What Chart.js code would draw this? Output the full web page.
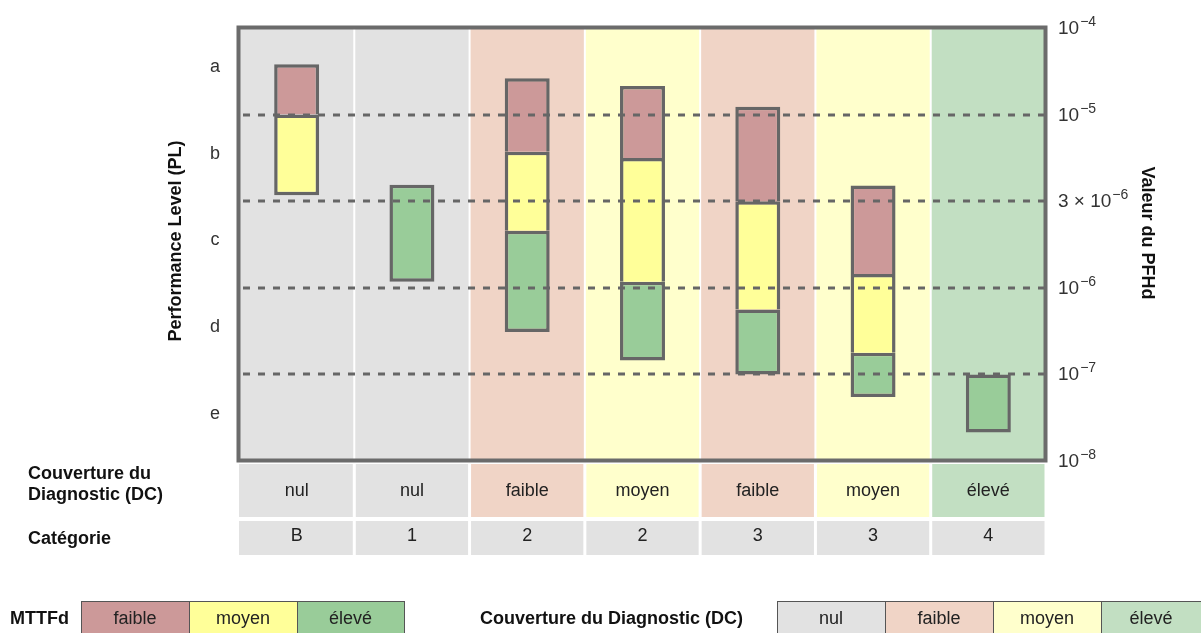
<!DOCTYPE html>
<html><head><meta charset="utf-8">
<script src="https://cdn.jsdelivr.net/npm/chart.js@4/dist/chart.umd.min.js"></script>
<style>html,body{margin:0;padding:0;background:#fff;overflow:hidden}#wrap{width:1201px;height:633px}</style>
</head><body><div id="wrap"><canvas id="c" width="1201" height="633"></canvas></div>
<script>
// ---- data (values in Performance-Level units: 0 = 10^-8 ... 5 = 10^-4) ----
const categories = ['B', '1', '2', '2', '3', '3', '4'];
const dcPerCategory = ['nul', 'nul', 'faible', 'moyen', 'faible', 'moyen', 'élevé'];
const mttfdFaible = [[4.0, 4.58], null, [3.57, 4.42], [3.50, 4.33], [3.0, 4.09], [2.16, 3.18], null];
const mttfdMoyen  = [[3.07, 4.0], null, [2.66, 3.57], [2.07, 3.50], [1.75, 3.0], [1.25, 2.16], null];
const mttfdEleve  = [null, [2.07, 3.19], [1.49, 2.66], [1.16, 2.07], [1.0, 1.75], [0.74, 1.25], [0.33, 1.0]];
const plLabels = ['e', 'd', 'c', 'b', 'a'];            // centred in bands 0-1 ... 4-5
const pfhdTickValues = [0, 1, 2, 3, 4, 5];
const pfhdTickBase = ['10', '10', '10', '3 × 10', '10', '10'];
const pfhdTickExp  = ['−8', '−7', '−6', '−6', '−5', '−4'];
const dashedLevels = [1, 2, 3, 4];
const mttfdLegend = ['faible', 'moyen', 'élevé'];
const dcLegend = ['nul', 'faible', 'moyen', 'élevé'];

// ---- styles ----
const dcColors = { 'nul': '#e2e2e2', 'faible': '#f0d4c6', 'moyen': '#ffffcc', 'élevé': '#c2dfc2' };
const mttfdColors = { 'faible': '#cc9999', 'moyen': '#ffff99', 'élevé': '#99cc99' };
const FONT = '"Liberation Sans", Arial, sans-serif';
const seriesList = [mttfdFaible, mttfdMoyen, mttfdEleve];

function borderFor(c) {
  const di = c.datasetIndex, i = c.dataIndex;
  let hasLower = false;
  for (let k = di + 1; k < seriesList.length; k++) if (seriesList[k][i]) hasLower = true;
  return { top: 3.5, left: 3.5, right: 3.5, bottom: hasLower ? 0 : 3.5 };
}

const deco = {
  id: 'deco',
  beforeDraw(chart) {
    const { ctx, chartArea: a, scales: { x } } = chart;
    const step = x.getPixelForValue(1) - x.getPixelForValue(0);
    ctx.save();
    categories.forEach((c, i) => {
      const cx = x.getPixelForValue(i);
      const l = cx - step / 2, r = cx + step / 2;
      ctx.fillStyle = dcColors[dcPerCategory[i]];
      ctx.fillRect(l, a.top, r - l, a.bottom - a.top);
      // table cells
      ctx.fillRect(l + (i ? 1.5 : 0), 464, r - l - (i ? 1.5 : 0) - 1.5, 53);
      ctx.fillStyle = '#e2e2e2';
      ctx.fillRect(l + (i ? 1.5 : 0), 521, r - l - (i ? 1.5 : 0) - 1.5, 34);
      if (i > 0) {
        ctx.fillStyle = '#ffffff';
        ctx.fillRect(l - 1, a.top, 2, a.bottom - a.top);
      }
    });
    // legends (boxes)
    const mx = [81, 189, 297, 404];
    mttfdLegend.forEach((k, i) => {
      ctx.fillStyle = mttfdColors[k];
      ctx.fillRect(mx[i], 601, mx[i + 1] - mx[i], 40);
    });
    ctx.strokeStyle = '#555'; ctx.lineWidth = 1;
    mttfdLegend.forEach((k, i) => ctx.strokeRect(mx[i] + 0.5, 601.5, mx[i + 1] - mx[i], 40));
    const dx = [777, 885, 993, 1101, 1209];
    dcLegend.forEach((k, i) => {
      ctx.fillStyle = dcColors[k];
      ctx.fillRect(dx[i], 601, dx[i + 1] - dx[i], 40);
    });
    dcLegend.forEach((k, i) => ctx.strokeRect(dx[i] + 0.5, 601.5, dx[i + 1] - dx[i], 40));
    ctx.restore();
  },
  afterDatasetsDraw(chart) {
    const { ctx, chartArea: a, scales: { y } } = chart;
    ctx.save();
    ctx.strokeStyle = '#666666';
    ctx.lineWidth = 3;
    ctx.setLineDash([7, 8]);
    dashedLevels.forEach(v => {
      const py = Math.round(y.getPixelForValue(v));
      ctx.beginPath(); ctx.moveTo(a.left + 4, py); ctx.lineTo(a.right, py); ctx.stroke();
    });
    ctx.setLineDash([]);
    ctx.lineWidth = 4;
    ctx.strokeStyle = '#6b6b6b';
    ctx.strokeRect(a.left - 0.5, a.top - 0.5, a.right - a.left, a.bottom - a.top);
    ctx.restore();
  },
  afterDraw(chart) {
    const { ctx, chartArea: a, scales: { x, y } } = chart;
    ctx.save();
    // left PL labels
    ctx.fillStyle = '#333';
    ctx.font = '18px ' + FONT;
    ctx.textAlign = 'center'; ctx.textBaseline = 'middle';
    plLabels.forEach((t, i) => ctx.fillText(t, 215, y.getPixelForValue(i + 0.5) - 4));
    // right PFHd ticks
    ctx.textAlign = 'left'; ctx.textBaseline = 'alphabetic';
    pfhdTickValues.forEach((v, i) => {
      const py = y.getPixelForValue(v);
      ctx.font = '19px ' + FONT;
      ctx.fillText(pfhdTickBase[i], 1058, py + 6);
      const w = ctx.measureText(pfhdTickBase[i]).width;
      ctx.font = '14px ' + FONT;
      ctx.fillText(pfhdTickExp[i], 1058 + w + 1, py - 2);
    });
    // axis titles
    ctx.fillStyle = '#111';
    ctx.font = 'bold 18px ' + FONT;
    ctx.textAlign = 'center'; ctx.textBaseline = 'middle';
    ctx.save(); ctx.translate(176, 241); ctx.rotate(-Math.PI / 2);
    ctx.fillText('Performance Level (PL)', 0, 0); ctx.restore();
    ctx.save(); ctx.translate(1147, 233); ctx.rotate(Math.PI / 2);
    ctx.fillText('Valeur du PFHd', 0, 0); ctx.restore();
    // table row labels
    ctx.textAlign = 'left'; ctx.textBaseline = 'alphabetic';
    ctx.fillText('Couverture du', 28, 479);
    ctx.fillText('Diagnostic (DC)', 28, 500);
    ctx.fillText('Catégorie', 28, 544);
    // table cell texts
    ctx.fillStyle = '#222';
    ctx.font = '18px ' + FONT;
    ctx.textAlign = 'center';
    categories.forEach((c, i) => {
      const cx = x.getPixelForValue(i);
      ctx.fillText(dcPerCategory[i], cx, 496);
      ctx.fillText(c, cx, 541);
    });
    // legends
    ctx.fillStyle = '#111';
    ctx.font = 'bold 18px ' + FONT;
    ctx.textAlign = 'left';
    ctx.fillText('MTTFd', 10, 624);
    ctx.fillText('Couverture du Diagnostic (DC)', 480, 624);
    ctx.fillStyle = '#222';
    ctx.font = '18px ' + FONT;
    ctx.textAlign = 'center';
    const mx = [81, 189, 297, 404];
    mttfdLegend.forEach((t, i) => ctx.fillText(t, (mx[i] + mx[i + 1]) / 2, 624));
    const dx = [777, 885, 993, 1101, 1209];
    dcLegend.forEach((t, i) => ctx.fillText(t, (dx[i] + dx[i + 1]) / 2 - (i === 3 ? 4 : 0), 624));
    ctx.restore();
  }
};

new Chart(document.getElementById('c'), {
  type: 'bar',
  data: {
    labels: categories,
    datasets: [
      { label: 'faible', data: mttfdFaible, backgroundColor: mttfdColors['faible'] },
      { label: 'moyen', data: mttfdMoyen, backgroundColor: mttfdColors['moyen'] },
      { label: 'élevé', data: mttfdEleve, backgroundColor: mttfdColors['élevé'] }
    ]
  },
  options: {
    responsive: false,
    animation: false,
    events: [],
    layout: { padding: { left: 239, right: 155, top: 28, bottom: 172 } },
    plugins: { legend: { display: false }, tooltip: { enabled: false } },
    datasets: {
      bar: {
        barPercentage: 0.39,
        categoryPercentage: 1,
        borderColor: '#666666',
        borderSkipped: false,
        borderWidth: borderFor
      }
    },
    scales: {
      x: { display: false, stacked: true, offset: true },
      y: { display: false, min: 0, max: 5, stacked: false }
    }
  },
  plugins: [deco]
});
</script>
</body></html>
